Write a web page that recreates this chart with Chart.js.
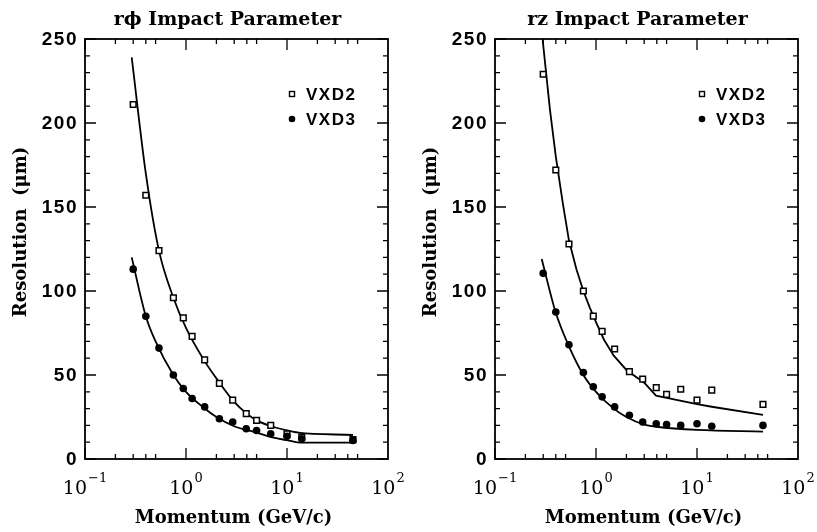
<!DOCTYPE html>
<html>
<head>
<meta charset="utf-8">
<script src="https://cdn.jsdelivr.net/npm/chart.js@4.4.1/dist/chart.umd.min.js"></script>
<style>
  html, body { margin: 0; padding: 0; background: #fff; }
  #wrap { position: relative; width: 817px; height: 532px; }
  canvas { position: absolute; top: 0; }
</style>
</head>
<body>
<div id="wrap">
  <canvas id="rphiChart" width="408" height="532" style="left:0"></canvas>
  <canvas id="rzChart" width="409" height="532" style="left:408px"></canvas>
</div>
<script>
// measured momenta (GeV/c), shared by both panels
const momentum = [0.3, 0.4, 0.54, 0.75, 0.94, 1.15, 1.53, 2.14, 2.9, 3.95, 5.0, 6.9, 10, 14, 45];

// r-phi impact parameter resolution (um)
const rphiVXD2 = [211, 157, 124, 96, 84, 73, 59, 45, 35, 27, 23, 20, 15, 13, 11.5];
const rphiVXD3 = [113, 85, 66, 50, 42, 36, 31, 24, 22, 18, 17, 15, 13.5, 12, 11];

// r-z impact parameter resolution (um)
const rzVXD2 = [229, 172, 128, 100, 85, 76, 65.5, 52, 47.5, 42.5, 38.5, 41.5, 35, 41, 32.5];
const rzVXD3 = [110.5, 87.5, 68, 51.5, 43, 37, 31, 26, 22, 21, 20.5, 20, 21, 19.5, 20];

// expected-resolution curves
const rphiCurve2X = [0.29, 0.4, 0.54, 0.75, 1, 1.5, 2, 3, 4, 5, 7, 10, 13, 45];
const rphiCurve2Y = [239, 170, 124, 96, 78, 59, 48, 34, 27, 23, 19.5, 17, 15.7, 14.3];
const rphiCurve3X = [0.29, 0.4, 0.5, 0.75, 1, 1.5, 2, 3, 5, 7, 10, 14, 45];
const rphiCurve3Y = [120, 85, 70, 50, 40, 30.5, 25, 19.5, 15.7, 13, 11.2, 9.7, 9.7];

const rzCurve2X = [0.29, 0.35, 0.4, 0.47, 0.54, 0.64, 0.75, 0.87, 1, 1.2, 1.5, 2, 3, 3.93, 10, 14, 45];
const rzCurve2Y = [255, 208, 180, 152, 130, 113, 100, 90, 81.5, 71, 61.5, 53, 45.4, 37.7, 32.7, 31.1, 26.2];
const rzCurve3X = [0.29, 0.4, 0.54, 0.75, 1, 1.5, 2, 3, 4, 10, 45];
const rzCurve3Y = [119, 87, 67, 50, 40, 30, 25, 20.5, 19.2, 17.3, 16.3];

const xExponents = [-1, 0, 1, 2];
const yLabels = [0, 50, 100, 150, 200, 250];

const serif = '"DejaVu Serif"';
const sans = '"Liberation Sans"';

function pts(xs, ys) {
  return xs.map((x, i) => ({ x, y: ys[i] }));
}

// frame, inward ticks, labels and legend drawn the old-fashioned paper way
const paperFrame = {
  id: 'paperFrame',
  afterDatasetsDraw(chart, args, opts) {
    const { ctx, chartArea: a } = chart;
    const x = chart.scales.x, y = chart.scales.y;
    ctx.save();
    ctx.strokeStyle = '#000';
    ctx.fillStyle = '#000';

    ctx.lineWidth = 1.3;
    ctx.beginPath();
    [0.1, 1, 10].forEach(d => {
      [1, 2, 3, 4, 5].forEach(m => {
        const px = x.getPixelForValue(d * m);
        const len = m === 1 ? 11 : 5;
        ctx.moveTo(px, a.bottom); ctx.lineTo(px, a.bottom - len);
        ctx.moveTo(px, a.top); ctx.lineTo(px, a.top + len);
      });
    });
    for (let v = 0; v <= 250; v += 10) {
      const py = y.getPixelForValue(v);
      const len = v % 50 === 0 ? 11 : 5;
      ctx.moveTo(a.left, py); ctx.lineTo(a.left + len, py);
      ctx.moveTo(a.right, py); ctx.lineTo(a.right - len, py);
    }
    ctx.stroke();

    ctx.lineWidth = 1.8;
    ctx.strokeRect(a.left, a.top, a.right - a.left, a.bottom - a.top);

    // y tick labels
    ctx.font = 'bold 19px ' + sans;
    ctx.letterSpacing = '1.5px';
    ctx.textAlign = 'right';
    ctx.textBaseline = 'middle';
    yLabels.forEach(v => ctx.fillText(String(v), a.left - 7, y.getPixelForValue(v) + 1));

    // x tick labels 10^n
    ctx.letterSpacing = '0px';
    ctx.textAlign = 'left';
    ctx.textBaseline = 'alphabetic';
    xExponents.forEach(e => {
      const px = x.getPixelForValue(Math.pow(10, e));
      ctx.font = '19px ' + serif;
      const wBase = ctx.measureText('10').width;
      ctx.font = '13px ' + serif;
      const exp = e < 0 ? '\u2212' + Math.abs(e) : String(e);
      const wExp = ctx.measureText(exp).width;
      const x0 = px - (wBase + wExp + 1) / 2;
      ctx.font = '19px ' + serif;
      ctx.fillText('10', x0, a.bottom + 35);
      ctx.font = '13px ' + serif;
      ctx.fillText(exp, x0 + wBase + 1, a.bottom + 23);
    });

    // axis titles
    ctx.font = 'bold 18px ' + serif;
    ctx.textAlign = 'center';
    ctx.fillText('Momentum (GeV/c)', (a.left + a.right) / 2 - 3, a.bottom + 64);
    ctx.save();
    ctx.translate(a.left - 64, 232);
    ctx.rotate(-Math.PI / 2);
    ctx.textBaseline = 'middle';
    ctx.fillText('Resolution  (\u03bcm)', 0, 0);
    ctx.restore();

    // panel title
    ctx.font = 'bold 19px ' + serif;
    ctx.fillText(opts.title, (a.left + a.right) / 2 - 9, 25);

    // legend
    const lx = a.right - 96;
    const ly1 = a.top + 55, ly2 = a.top + 80;
    ctx.lineWidth = 1.4;
    ctx.strokeRect(lx - 2.5, ly1 - 2.5, 5, 5);
    ctx.beginPath();
    ctx.arc(lx, ly2, 3.3, 0, Math.PI * 2);
    ctx.fill();
    ctx.font = 'bold 17px ' + sans;
    ctx.letterSpacing = '1.5px';
    ctx.textAlign = 'left';
    ctx.textBaseline = 'middle';
    ctx.fillText('VXD2', a.right - 82, ly1 + 1);
    ctx.fillText('VXD3', a.right - 82, ly2 + 1);
    ctx.restore();
  }
};

function makeChart(id, title, vxd2, vxd3, c2x, c2y, c3x, c3y, pad, smooth2) {
  const curve = (data, smooth) => ({
    type: 'line', data, showLine: true, borderColor: '#000', borderWidth: 1.8,
    pointRadius: 0, fill: false, order: 2,
    cubicInterpolationMode: smooth ? 'monotone' : 'default', tension: 0
  });
  new Chart(document.getElementById(id).getContext('2d'), {
    type: 'scatter',
    data: {
      datasets: [
        curve(pts(c2x, c2y), smooth2),
        curve(pts(c3x, c3y), true),
        {
          label: 'VXD2', data: pts(momentum, vxd2), pointStyle: 'rect', pointRadius: 4,
          borderColor: '#000', backgroundColor: '#fff', borderWidth: 1.5, order: 1
        },
        {
          label: 'VXD3', data: pts(momentum, vxd3), pointStyle: 'circle', pointRadius: 3.8,
          borderColor: '#000', backgroundColor: '#000', borderWidth: 0, order: 0
        }
      ]
    },
    options: {
      responsive: false,
      animation: false,
      layout: { padding: pad },
      scales: {
        x: { type: 'logarithmic', min: 0.1, max: 100, display: false },
        y: { type: 'linear', min: 0, max: 250, display: false }
      },
      plugins: {
        legend: { display: false },
        tooltip: { enabled: false },
        paperFrame: { title }
      }
    },
    plugins: [paperFrame]
  });
}

makeChart('rphiChart', 'r\u03d5 Impact Parameter', rphiVXD2, rphiVXD3,
  rphiCurve2X, rphiCurve2Y, rphiCurve3X, rphiCurve3Y,
  { left: 85, right: 20, top: 39, bottom: 73 }, true);
makeChart('rzChart', 'rz Impact Parameter', rzVXD2, rzVXD3,
  rzCurve2X, rzCurve2Y, rzCurve3X, rzCurve3Y,
  { left: 87, right: 19, top: 39, bottom: 73 }, false);
</script>
</body>
</html>
